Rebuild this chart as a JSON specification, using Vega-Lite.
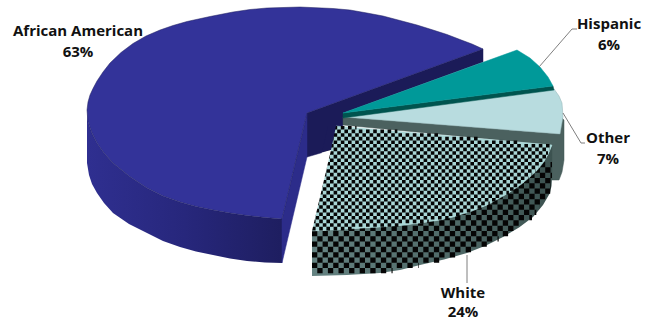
{
"$schema":"https://vega.github.io/schema/vega-lite/v6.json",
"width":648,"height":322,"padding":0,"autosize":"none",
"background":"white",
"config":{"view":{"stroke":null}},
"datasets":{
"outline":[
{"part":"back","i":1,"x":307,"y":113},{"part":"back","i":2,"x":483,"y":49},{"part":"back","i":3,"x":483,"y":62},{"part":"back","i":4,"x":343,"y":113},{"part":"back","i":5,"x":343,"y":125},{"part":"back","i":6,"x":331,"y":150},{"part":"back","i":7,"x":307,"y":157},{"part":"back","i":8,"x":307,"y":113},
{"part":"navyWall","i":1,"x":87,"y":110},{"part":"navyWall","i":2,"x":88,"y":122},{"part":"navyWall","i":3,"x":92,"y":133},{"part":"navyWall","i":4,"x":97,"y":143},{"part":"navyWall","i":5,"x":104,"y":153},{"part":"navyWall","i":6,"x":113,"y":163},{"part":"navyWall","i":7,"x":129,"y":176},{"part":"navyWall","i":8,"x":147,"y":188},{"part":"navyWall","i":9,"x":163,"y":196},{"part":"navyWall","i":10,"x":180,"y":202},{"part":"navyWall","i":11,"x":196,"y":206.5},{"part":"navyWall","i":12,"x":213,"y":210},{"part":"navyWall","i":13,"x":230,"y":213},{"part":"navyWall","i":14,"x":247,"y":215.5},{"part":"navyWall","i":15,"x":265,"y":217.5},{"part":"navyWall","i":16,"x":282,"y":219},{"part":"navyWall","i":17,"x":282,"y":263},{"part":"navyWall","i":18,"x":265,"y":262.5},{"part":"navyWall","i":19,"x":247,"y":261},{"part":"navyWall","i":20,"x":230,"y":258.5},{"part":"navyWall","i":21,"x":213,"y":255},{"part":"navyWall","i":22,"x":196,"y":251.5},{"part":"navyWall","i":23,"x":180,"y":247},{"part":"navyWall","i":24,"x":163,"y":241},{"part":"navyWall","i":25,"x":147,"y":233},{"part":"navyWall","i":26,"x":129,"y":224},{"part":"navyWall","i":27,"x":113,"y":213},{"part":"navyWall","i":28,"x":104,"y":203},{"part":"navyWall","i":29,"x":97,"y":193},{"part":"navyWall","i":30,"x":92,"y":184},{"part":"navyWall","i":31,"x":89,"y":175},{"part":"navyWall","i":32,"x":87,"y":163},{"part":"navyWall","i":33,"x":87,"y":110},
{"part":"navyCut","i":1,"x":307,"y":113},{"part":"navyCut","i":2,"x":282,"y":219},{"part":"navyCut","i":3,"x":282,"y":263},{"part":"navyCut","i":4,"x":307,"y":157},{"part":"navyCut","i":5,"x":307,"y":113},
{"part":"navyTop","i":1,"x":87,"y":110},{"part":"navyTop","i":2,"x":88,"y":102},{"part":"navyTop","i":3,"x":90,"y":95},{"part":"navyTop","i":4,"x":93,"y":88.5},{"part":"navyTop","i":5,"x":97,"y":81},{"part":"navyTop","i":6,"x":103,"y":72},{"part":"navyTop","i":7,"x":110,"y":63},{"part":"navyTop","i":8,"x":121,"y":52.5},{"part":"navyTop","i":9,"x":133,"y":43.5},{"part":"navyTop","i":10,"x":146,"y":36},{"part":"navyTop","i":11,"x":160,"y":30},{"part":"navyTop","i":12,"x":173,"y":25.5},{"part":"navyTop","i":13,"x":187,"y":21.5},{"part":"navyTop","i":14,"x":210,"y":16.5},{"part":"navyTop","i":15,"x":233,"y":12},{"part":"navyTop","i":16,"x":250,"y":9.5},{"part":"navyTop","i":17,"x":267,"y":8},{"part":"navyTop","i":18,"x":300,"y":7},{"part":"navyTop","i":19,"x":333,"y":8.5},{"part":"navyTop","i":20,"x":350,"y":10},{"part":"navyTop","i":21,"x":367,"y":13},{"part":"navyTop","i":22,"x":383,"y":16},{"part":"navyTop","i":23,"x":400,"y":20.5},{"part":"navyTop","i":24,"x":417,"y":25},{"part":"navyTop","i":25,"x":433,"y":30},{"part":"navyTop","i":26,"x":447,"y":34.5},{"part":"navyTop","i":27,"x":460,"y":39.5},{"part":"navyTop","i":28,"x":472,"y":44},{"part":"navyTop","i":29,"x":483,"y":49},{"part":"navyTop","i":30,"x":307,"y":113},{"part":"navyTop","i":31,"x":282,"y":219},{"part":"navyTop","i":32,"x":265,"y":217.5},{"part":"navyTop","i":33,"x":247,"y":215.5},{"part":"navyTop","i":34,"x":230,"y":213},{"part":"navyTop","i":35,"x":213,"y":210},{"part":"navyTop","i":36,"x":196,"y":206.5},{"part":"navyTop","i":37,"x":180,"y":202},{"part":"navyTop","i":38,"x":163,"y":196},{"part":"navyTop","i":39,"x":147,"y":188},{"part":"navyTop","i":40,"x":129,"y":176},{"part":"navyTop","i":41,"x":113,"y":163},{"part":"navyTop","i":42,"x":104,"y":153},{"part":"navyTop","i":43,"x":97,"y":143},{"part":"navyTop","i":44,"x":92,"y":133},{"part":"navyTop","i":45,"x":88,"y":122},{"part":"navyTop","i":46,"x":87,"y":110},
{"part":"otherWall","i":1,"x":343,"y":117},{"part":"otherWall","i":2,"x":560,"y":134},{"part":"otherWall","i":3,"x":562,"y":118},{"part":"otherWall","i":4,"x":564,"y":120},{"part":"otherWall","i":5,"x":564,"y":160},{"part":"otherWall","i":6,"x":562,"y":172},{"part":"otherWall","i":7,"x":559,"y":180},{"part":"otherWall","i":8,"x":552,"y":180},{"part":"otherWall","i":9,"x":552,"y":145},{"part":"otherWall","i":10,"x":343,"y":125},{"part":"otherWall","i":11,"x":343,"y":117},
{"part":"otherTop","i":1,"x":343,"y":117},{"part":"otherTop","i":2,"x":554,"y":89},{"part":"otherTop","i":3,"x":559,"y":96},{"part":"otherTop","i":4,"x":562,"y":103},{"part":"otherTop","i":5,"x":563,"y":117},{"part":"otherTop","i":6,"x":560,"y":134},{"part":"otherTop","i":7,"x":343,"y":117},
{"part":"tealWall","i":1,"x":343,"y":113},{"part":"tealWall","i":2,"x":553,"y":86},{"part":"tealWall","i":3,"x":554,"y":90},{"part":"tealWall","i":4,"x":343,"y":118},{"part":"tealWall","i":5,"x":343,"y":113},
{"part":"tealTop","i":1,"x":343,"y":113},{"part":"tealTop","i":2,"x":517,"y":50},{"part":"tealTop","i":3,"x":530,"y":58},{"part":"tealTop","i":4,"x":540,"y":67},{"part":"tealTop","i":5,"x":548,"y":77},{"part":"tealTop","i":6,"x":553,"y":86},{"part":"tealTop","i":7,"x":343,"y":113},
{"part":"whiteWall","i":1,"x":312,"y":231},{"part":"whiteWall","i":2,"x":347,"y":229},{"part":"whiteWall","i":3,"x":380,"y":227},{"part":"whiteWall","i":4,"x":400,"y":225.5},{"part":"whiteWall","i":5,"x":420,"y":223},{"part":"whiteWall","i":6,"x":437,"y":220.5},{"part":"whiteWall","i":7,"x":453,"y":217},{"part":"whiteWall","i":8,"x":471,"y":211.5},{"part":"whiteWall","i":9,"x":487,"y":205},{"part":"whiteWall","i":10,"x":499,"y":198.5},{"part":"whiteWall","i":11,"x":510,"y":192},{"part":"whiteWall","i":12,"x":521,"y":184.5},{"part":"whiteWall","i":13,"x":530,"y":177},{"part":"whiteWall","i":14,"x":537,"y":170.5},{"part":"whiteWall","i":15,"x":543,"y":163},{"part":"whiteWall","i":16,"x":548,"y":154.5},{"part":"whiteWall","i":17,"x":552,"y":145},{"part":"whiteWall","i":18,"x":552,"y":178},{"part":"whiteWall","i":19,"x":551.5,"y":186},{"part":"whiteWall","i":20,"x":550,"y":193},{"part":"whiteWall","i":21,"x":543,"y":205},{"part":"whiteWall","i":22,"x":533,"y":217},{"part":"whiteWall","i":23,"x":519,"y":227.5},{"part":"whiteWall","i":24,"x":503,"y":237},{"part":"whiteWall","i":25,"x":486,"y":245.5},{"part":"whiteWall","i":26,"x":467,"y":253},{"part":"whiteWall","i":27,"x":444,"y":259.5},{"part":"whiteWall","i":28,"x":420,"y":265},{"part":"whiteWall","i":29,"x":400,"y":270},{"part":"whiteWall","i":30,"x":380,"y":273},{"part":"whiteWall","i":31,"x":347,"y":275},{"part":"whiteWall","i":32,"x":312,"y":276},{"part":"whiteWall","i":33,"x":312,"y":231},
{"part":"whiteTop","i":1,"x":336,"y":126},{"part":"whiteTop","i":2,"x":552,"y":145},{"part":"whiteTop","i":3,"x":548,"y":154.5},{"part":"whiteTop","i":4,"x":543,"y":163},{"part":"whiteTop","i":5,"x":537,"y":170.5},{"part":"whiteTop","i":6,"x":530,"y":177},{"part":"whiteTop","i":7,"x":521,"y":184.5},{"part":"whiteTop","i":8,"x":510,"y":192},{"part":"whiteTop","i":9,"x":499,"y":198.5},{"part":"whiteTop","i":10,"x":487,"y":205},{"part":"whiteTop","i":11,"x":471,"y":211.5},{"part":"whiteTop","i":12,"x":453,"y":217},{"part":"whiteTop","i":13,"x":437,"y":220.5},{"part":"whiteTop","i":14,"x":420,"y":223},{"part":"whiteTop","i":15,"x":400,"y":225.5},{"part":"whiteTop","i":16,"x":380,"y":227},{"part":"whiteTop","i":17,"x":347,"y":229},{"part":"whiteTop","i":18,"x":312,"y":231},{"part":"whiteTop","i":19,"x":336,"y":126},
{"part":"edgeBack","i":1,"x":336,"y":126},{"part":"edgeBack","i":2,"x":331,"y":150},{"part":"edgeBack","i":3,"x":322,"y":152.6},{"part":"edgeBack","i":4,"x":328,"y":126},{"part":"edgeBack","i":5,"x":336,"y":126},
{"part":"edgeGap","i":1,"x":331,"y":150},{"part":"edgeGap","i":2,"x":312,"y":231},{"part":"edgeGap","i":3,"x":304,"y":231},{"part":"edgeGap","i":4,"x":322,"y":152.6},{"part":"edgeGap","i":5,"x":331,"y":150}
],
"checksTop":[
{"x":333.6,"x2":356.5,"y":127.8},{"x":330,"x2":397.4,"y":131.4},{"x":333.6,"x2":438,"y":135},{"x":330,"x2":479,"y":138.6},{"x":326.4,"x2":520,"y":142.2},{"x":330,"x2":551.6,"y":145.8},{"x":326.4,"x2":549.8,"y":149.4},{"x":322.8,"x2":548,"y":153},{"x":326.4,"x2":546.2,"y":156.6},{"x":322.8,"x2":544.4,"y":160.2},{"x":326.4,"x2":542.3,"y":163.8},{"x":322.8,"x2":538.9,"y":167.4},{"x":319.2,"x2":535.6,"y":171},{"x":322.8,"x2":532.2,"y":174.6},{"x":319.2,"x2":528.4,"y":178.2},{"x":322.8,"x2":523.6,"y":181.8},{"x":319.2,"x2":518.8,"y":185.4},{"x":315.6,"x2":514,"y":189},{"x":319.2,"x2":508.9,"y":192.6},{"x":315.6,"x2":502.6,"y":196.2},{"x":312,"x2":496.2,"y":199.8},{"x":315.6,"x2":489.8,"y":203.4},{"x":312,"x2":481.3,"y":207},{"x":315.6,"x2":471.1,"y":210.6},{"x":312,"x2":460.9,"y":214.2},{"x":308.4,"x2":448.6,"y":217.8},{"x":312,"x2":428.8,"y":221.4},{"x":308.4,"x2":400,"y":225},{"x":312,"x2":353.6,"y":228.6}
],
"checksWall":[
{"x":539.9,"x2":552,"y":164.7},{"x":534.6,"x2":552,"y":170},{"x":529.3,"x2":552,"y":175.3},{"x":524,"x2":551.6,"y":180.6},{"x":518.7,"x2":551,"y":185.9},{"x":502.8,"x2":550.2,"y":191.2},{"x":497.5,"x2":547.5,"y":196.5},{"x":492.2,"x2":543.8,"y":201.8},{"x":476.3,"x2":540,"y":207.1},{"x":460.4,"x2":536.3,"y":212.4},{"x":444.5,"x2":532,"y":217.7},{"x":418,"x2":524,"y":223},{"x":349.1,"x2":516,"y":228.3},{"x":312,"x2":508.1,"y":233.6},{"x":317.3,"x2":498.7,"y":238.9},{"x":312,"x2":486.8,"y":244.2},{"x":317.3,"x2":474.9,"y":249.5},{"x":312,"x2":460,"y":254.8},{"x":317.3,"x2":439.2,"y":260.1},{"x":312,"x2":418.6,"y":265.4},{"x":317.3,"x2":392.6,"y":270.7}
],
"leaders":[
{"who":"Hispanic","i":1,"x":539,"y":67},{"who":"Hispanic","i":2,"x":572,"y":29},{"who":"Hispanic","i":3,"x":577,"y":29},
{"who":"Other","i":1,"x":563,"y":113},{"who":"Other","i":2,"x":581,"y":143},{"who":"Other","i":3,"x":585,"y":143},
{"who":"White","i":1,"x":467,"y":255},{"who":"White","i":2,"x":467,"y":283}
],
"labels":[
{"line":"African American","x":78,"y":31},{"line":"63%","x":78,"y":52},
{"line":"Hispanic","x":609,"y":24},{"line":"6%","x":609,"y":45},
{"line":"Other","x":608,"y":138},{"line":"7%","x":608,"y":159},
{"line":"White","x":463,"y":293},{"line":"24%","x":463,"y":312}
]
},
"encoding":{
"x":{"field":"x","type":"quantitative","scale":{"domain":[0,648],"nice":false,"zero":false},"axis":null},
"y":{"field":"y","type":"quantitative","scale":{"domain":[322,0],"nice":false,"zero":false},"axis":null},
"order":{"field":"i"}
},
"layer":[
{"data":{"name":"outline"},"transform":[{"filter":"datum.part==='back'"}],"mark":{"type":"line","fill":"#1b1b58","stroke":"#1b1b58","strokeWidth":0.5}},
{"data":{"name":"outline"},"transform":[{"filter":"datum.part==='navyWall'"}],"mark":{"type":"line","stroke":null,"fill":{"gradient":"linear","x1":0,"y1":0,"x2":1,"y2":0,"stops":[{"offset":0,"color":"#2f2f90"},{"offset":0.5,"color":"#27277c"},{"offset":1,"color":"#1e1e60"}]}}},
{"data":{"name":"outline"},"transform":[{"filter":"datum.part==='navyCut'"}],"mark":{"type":"line","fill":"#2c2c8a","stroke":"#2c2c8a","strokeWidth":0.5}},
{"data":{"name":"outline"},"transform":[{"filter":"datum.part==='navyTop'"}],"mark":{"type":"line","fill":"#333399","stroke":"#1c1c5c","strokeWidth":0.5}},
{"data":{"name":"outline"},"transform":[{"filter":"datum.part==='otherWall'"}],"mark":{"type":"line","fill":"#4b615f","stroke":"#3f5553","strokeWidth":0.5}},
{"data":{"name":"outline"},"transform":[{"filter":"datum.part==='otherTop'"}],"mark":{"type":"line","fill":"#b8dcdf","stroke":"#8fb0b2","strokeWidth":0.5}},
{"data":{"name":"outline"},"transform":[{"filter":"datum.part==='tealWall'"}],"mark":{"type":"line","fill":"#00544f","stroke":"#00544f","strokeWidth":0.5}},
{"data":{"name":"outline"},"transform":[{"filter":"datum.part==='tealTop'"}],"mark":{"type":"line","fill":"#009999","stroke":"#009999","strokeWidth":0.5}},
{"data":{"name":"outline"},"transform":[{"filter":"datum.part==='whiteWall'"}],"mark":{"type":"line","stroke":null,"fill":{"gradient":"linear","x1":0,"y1":0,"x2":1,"y2":0,"stops":[{"offset":0,"color":"#658382"},{"offset":0.6,"color":"#4f6967"},{"offset":1,"color":"#3c5250"}]}}},
{"data":{"name":"checksWall"},"mark":{"type":"rule","color":"#050505","strokeWidth":5.3,"strokeDash":[5.3,5.3]},"encoding":{"x":{"field":"x","type":"quantitative","scale":{"domain":[0,648],"nice":false,"zero":false},"axis":null},"x2":{"field":"x2"},"y":{"field":"y","type":"quantitative","scale":{"domain":[322,0],"nice":false,"zero":false},"axis":null},"order":null}},
{"data":{"name":"outline"},"transform":[{"filter":"datum.part==='whiteTop'"}],"mark":{"type":"line","fill":"#a9d6d6","stroke":"#a9d6d6","strokeWidth":0.5}},
{"data":{"name":"checksTop"},"mark":{"type":"rule","color":"#050505","strokeWidth":3.6,"strokeDash":[3.6,3.6]},"encoding":{"x":{"field":"x","type":"quantitative","scale":{"domain":[0,648],"nice":false,"zero":false},"axis":null},"x2":{"field":"x2"},"y":{"field":"y","type":"quantitative","scale":{"domain":[322,0],"nice":false,"zero":false},"axis":null},"order":null}},
{"data":{"name":"outline"},"transform":[{"filter":"datum.part==='edgeBack'"}],"mark":{"type":"line","fill":"#1b1b58","stroke":null}},
{"data":{"name":"outline"},"transform":[{"filter":"datum.part==='edgeGap'"}],"mark":{"type":"line","fill":"white","stroke":null}},
{"data":{"name":"leaders"},"mark":{"type":"line","color":"#7f7f7f","strokeWidth":1},"encoding":{"detail":{"field":"who"}}},
{"data":{"name":"labels"},"mark":{"type":"text","font":"Open Sans","fontWeight":"bold","fontSize":15,"color":"#111111","align":"center","baseline":"middle"},"encoding":{"text":{"field":"line"},"order":null}}
]
}
